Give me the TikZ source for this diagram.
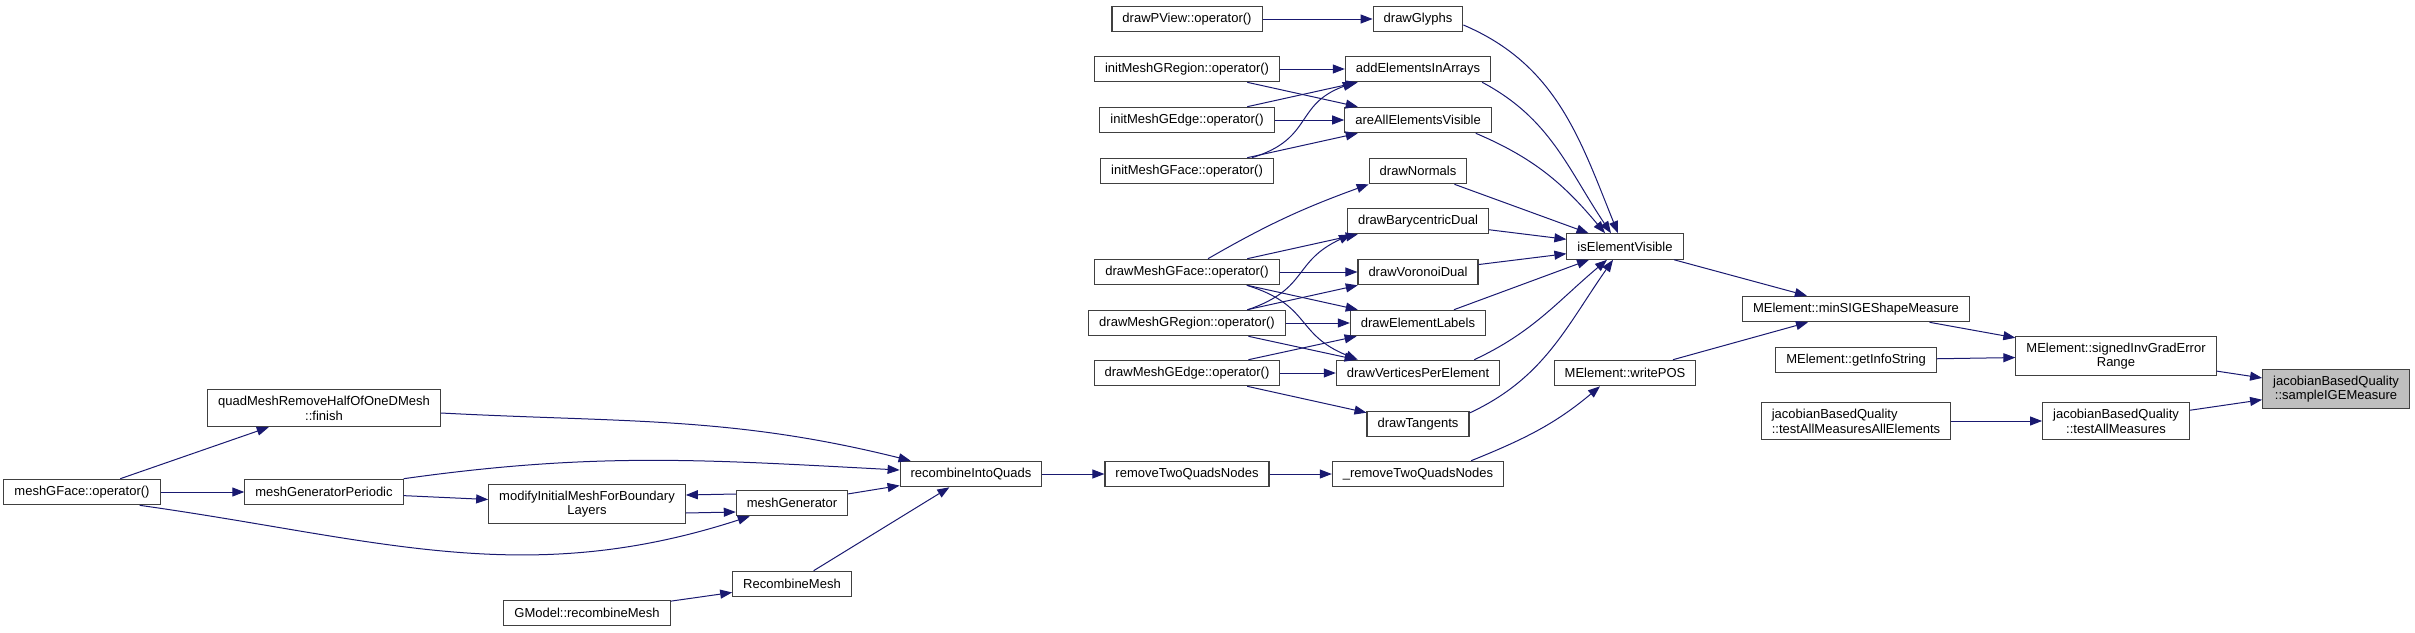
\documentclass[tikz,border=0pt]{standalone}
\usepackage{fontspec}
\setmainfont{Liberation Sans}
\usepackage{xcolor}
\usetikzlibrary{arrows.meta}
\definecolor{edgeblue}{RGB}{25,25,112}
\definecolor{nodeframe}{RGB}{64,64,64}
\definecolor{rootfill}{RGB}{191,191,191}

\begin{document}
\begin{tikzpicture}[
        x=1pt, y=-1pt,
        func/.style={rectangle, draw=nodeframe, fill=white, line width=1.1pt, minimum height=25.5pt, inner xsep=10.5pt, inner ysep=6.5pt, align=center, font=\fontsize{13pt}{14.7pt}\selectfont},
        root/.style={func, fill=rootfill},
        call/.style={-{Triangle[length=12pt, width=9pt]}, draw=edgeblue, line width=1pt}
    ]
        \useasboundingbox (0,0) rectangle (2415,632);

        \node[func] (meshgface) at (82,492) {meshGFace::operator()};
        \node[func] (quadfinish) at (324,408) {quadMeshRemoveHalfOfOneDMesh\\::finish};
        \node[func] (periodic) at (324,492) {meshGeneratorPeriodic};
        \node[func] (modify) at (587,504) {modifyInitialMeshForBoundary\\Layers};
        \node[func] (gmodel) at (587,613) {GModel::recombineMesh};
        \node[func] (meshgen) at (792,503) {meshGenerator};
        \node[func] (recmesh) at (792,584) {RecombineMesh};
        \node[func] (recquads) at (971,474) {recombineIntoQuads};

        \node[func] (pview) at (1187,19) {drawPView::operator()};
        \node[func] (initregion) at (1187,69) {initMeshGRegion::operator()};
        \node[func] (initedge) at (1187,120) {initMeshGEdge::operator()};
        \node[func] (initface) at (1187,171) {initMeshGFace::operator()};
        \node[func] (drawface) at (1187,272) {drawMeshGFace::operator()};
        \node[func] (drawregion) at (1187,323) {drawMeshGRegion::operator()};
        \node[func] (drawedge) at (1187,373) {drawMeshGEdge::operator()};
        \node[func] (rmtwo) at (1187,474) {removeTwoQuadsNodes};

        \node[func] (glyphs) at (1418,19) {drawGlyphs};
        \node[func] (addelem) at (1418,69) {addElementsInArrays};
        \node[func] (allvis) at (1418,120) {areAllElementsVisible};
        \node[func] (normals) at (1418,171) {drawNormals};
        \node[func] (bary) at (1418,221) {drawBarycentricDual};
        \node[func] (voronoi) at (1418,272) {drawVoronoiDual};
        \node[func] (labels) at (1418,323) {drawElementLabels};
        \node[func] (vertices) at (1418,373) {drawVerticesPerElement};
        \node[func] (tangents) at (1418,424) {drawTangents};
        \node[func] (rmtwou) at (1418,474) {\_removeTwoQuadsNodes};

        \node[func] (visible) at (1625,246.5) {isElementVisible};
        \node[func] (writepos) at (1625,373) {MElement::writePOS};
        \node[func] (minsige) at (1856,309) {MElement::minSIGEShapeMeasure};
        \node[func] (infostr) at (1856,360) {MElement::getInfoString};
        \node[func, align=left] (testallelem) at (1856,421) {jacobianBasedQuality\\::testAllMeasuresAllElements};
        \node[func] (signedinv) at (2116,356) {MElement::signedInvGradError\\Range};
        \node[func] (testall) at (2116,421) {jacobianBasedQuality\\::testAllMeasures};
        \node[root] (sample) at (2336,389) {jacobianBasedQuality\\::sampleIGEMeasure};

        \draw[call] (meshgface) -- (quadfinish);
        \draw[call] (meshgface) -- (periodic);
        \draw[call] ([xshift=-21pt]meshgface.south east) to[out=-8, in=-162] ([xshift=14pt]meshgen.south west);
        \draw[call] ([yshift=-5pt]quadfinish.east) to[out=-3, in=166] ([xshift=11pt]recquads.north west);
        \draw[call] (periodic.north east) to[out=8, in=177] ([yshift=4pt]recquads.west);
        \draw[call] (periodic) -- (modify);
        \draw[call] ([yshift=9pt]meshgen.west) -- ([yshift=9pt]modify.east);
        \draw[call] ([yshift=-9pt]modify.east) -- ([yshift=-9pt]meshgen.west);
        \draw[call] (meshgen) -- (recquads);
        \draw[call] (gmodel) -- (recmesh);
        \draw[call] (recmesh) -- (recquads);
        \draw[call] (recquads) -- (rmtwo);
        \draw[call] (rmtwo) -- (rmtwou);
        \draw[call] ([xshift=-33pt]rmtwou.north east) to[out=22, in=-140] ([xshift=-25pt]writepos.south);

        \draw[call] (pview) -- (glyphs);
        \draw[call] (initregion) -- (addelem);
        \draw[call] (initregion) -- (allvis);
        \draw[call] (initedge) -- (addelem);
        \draw[call] (initedge) -- (allvis);
        \draw[call] ([xshift=-22pt]initface.north east) to[out=17, in=-160, looseness=1.3] ([xshift=10pt]addelem.south west);
        \draw[call] (initface) -- (allvis);
        \draw[call] ([xshift=21pt]drawface.north) to[out=30, in=-160] (normals.south west);
        \draw[call] (drawface) -- (bary);
        \draw[call] (drawface) -- (voronoi);
        \draw[call] (drawface) -- (labels);
        \draw[call] ([xshift=-33pt]drawface.south east) to[out=-17, in=158, looseness=1.3] ([xshift=22pt]vertices.north west);
        \draw[call] ([xshift=-38pt]drawregion.north east) to[out=19, in=-155, looseness=1.3] ([xshift=4pt]bary.south west);
        \draw[call] (drawregion) -- (voronoi);
        \draw[call] (drawregion) -- (labels);
        \draw[call] (drawregion) -- (vertices);
        \draw[call] (drawedge) -- (labels);
        \draw[call] (drawedge) -- (vertices);
        \draw[call] (drawedge) -- (tangents);

        \draw[call] ([yshift=-6pt]glyphs.east) to[out=-23, in=112] ([xshift=-7pt]visible.north);
        \draw[call] ([xshift=-9pt]addelem.south east) to[out=-28, in=124] ([xshift=-14pt]visible.north);
        \draw[call] ([xshift=-16pt]allvis.south east) to[out=-23, in=130] ([xshift=-20pt]visible.north);
        \draw[call] (normals) -- (visible);
        \draw[call] (bary) -- (visible);
        \draw[call] (voronoi) -- (visible);
        \draw[call] (labels) -- (visible);
        \draw[call] ([xshift=-26pt]vertices.north east) to[out=25, in=-140] ([xshift=-18pt]visible.south);
        \draw[call] ([yshift=11pt]tangents.east) to[out=25, in=-125] ([xshift=-12pt]visible.south);

        \draw[call] (visible) -- (minsige);
        \draw[call] (writepos) -- (minsige);
        \draw[call] (minsige) -- (signedinv);
        \draw[call] (infostr) -- (signedinv);
        \draw[call] (signedinv) -- (sample);
        \draw[call] (testallelem) -- (testall);
        \draw[call] (testall) -- (sample);
    \end{tikzpicture}
\end{document}
